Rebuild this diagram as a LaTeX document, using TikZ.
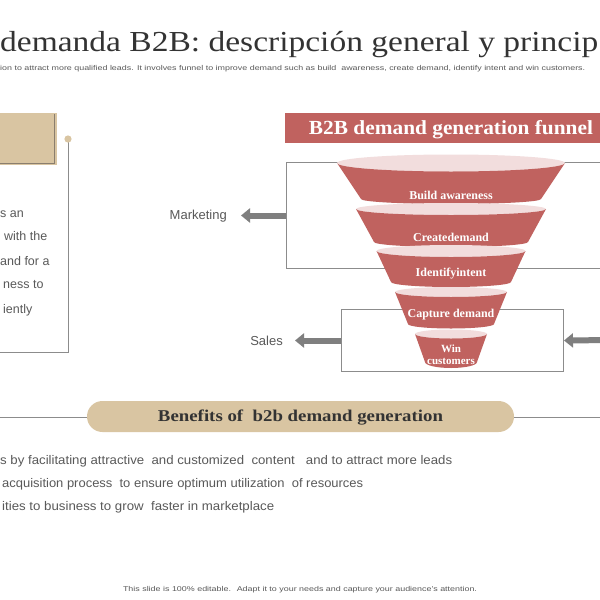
\documentclass[tikz,border=0pt]{standalone}
\usepackage{graphicx}
\usepackage{fontspec}
\setmainfont{Liberation Serif}
\setsansfont{Liberation Sans}
\usetikzlibrary{arrows.meta}
\definecolor{fred}{HTML}{C0625F}
\definecolor{fpink}{HTML}{F2DDDD}
\definecolor{beige}{HTML}{D9C5A2}
\definecolor{bdark}{HTML}{8A7E6E}
\definecolor{tgray}{HTML}{595959}
\definecolor{dgray}{HTML}{333333}
\definecolor{lgray}{HTML}{8C8C8C}
\definecolor{agray}{HTML}{7F7F7F}
\newcommand{\fitw}[2]{\resizebox{#1}{\height}{#2}}
\newcommand{\fseg}[7]{%
  \fill[fpink] (#1,#2) ellipse [x radius=#3, y radius=#4];
  \fill[fred] ({#1-#3},#2) arc[start angle=180,end angle=0,x radius=#3,y radius=#4]
     -- ({#1+#6},#5) arc[start angle=0,end angle=180,x radius=#6,y radius=#7] -- cycle;}
\tikzset{
  sans/.style={font=\sffamily\fontsize{12.5}{14}\selectfont, text=tgray, inner sep=0pt},
  ftext/.style={font=\bfseries\fontsize{12}{13}\selectfont, text=white, inner sep=0pt},
  fsmall/.style={font=\bfseries\fontsize{11}{12}\selectfont, text=white, inner sep=0pt, anchor=base},
  boxline/.style={draw=lgray, line width=1pt},
  bigarrow/.style={draw=agray, line width=6pt, -{Triangle[width=14pt,length=9pt]}},
}
\begin{document}
\begin{tikzpicture}[x=1pt,y=-1pt]
\useasboundingbox (0,0) rectangle (600,600);
\clip (0,0) rectangle (600,600);
\fill[white] (0,0) rectangle (600,600);

% title and subtitle
\node[anchor=base west, inner sep=0pt, text=dgray] (title) at (0,51)
  {\fitw{598pt}{\fontsize{29}{34}\selectfont demanda B2B: descripción general y princip}};
\node[anchor=west, inner sep=0pt, text=tgray] (sub) at (0,69)
  {\fitw{585pt}{\sffamily\fontsize{7}{8}\selectfont ion to attract more qualified leads. It involves funnel to improve demand such as build~ awareness, create demand, identify intent and win customers.}};

% left panel
\fill[beige] (-5,113) rectangle (57,165);
\draw[bdark, line width=0.9pt] (-5,163) -- (54,163) -- (54,114);
\draw[boxline] (68,139) -- (68,352) -- (-5,352);
\fill[beige] (68,139) circle[radius=3.6];
\node[sans, anchor=base west] (l1) at (0,217.5) {s an};
\node[sans, anchor=base west] (l2) at (4,240.5) {with the};
\node[sans, anchor=base west] (l3) at (0,265) {and for a};
\node[sans, anchor=base west] (l4) at (3,288.5) {ness to};
\node[sans, anchor=base west] (l5) at (3,313) {iently};

% funnel header
\node[fill=fred, minimum width=330pt, minimum height=30pt, anchor=north west, inner sep=0pt] (hdr) at (285,113) {};
\node[inner sep=0pt, text=white, anchor=base] (hdrt) at (451,134.5)
  {\fitw{284pt}{\bfseries\fontsize{20}{24}\selectfont B2B demand generation funnel}};

% boxes
\node[boxline, minimum width=330pt, minimum height=106pt, anchor=north west, inner sep=0pt] (mktbox) at (286,162) {};
\node[boxline, minimum width=222pt, minimum height=62pt, anchor=north west, inner sep=0pt] (salesbox) at (341,309) {};

% labels and arrows
\node[sans, font=\sffamily\fontsize{13}{15}\selectfont, anchor=east] (mkt) at (227,216) {Marketing};
\node[sans, font=\sffamily\fontsize{13}{15}\selectfont, anchor=east] (sales) at (283,341) {Sales};
\coordinate (rin) at (612,340);
\draw[bigarrow, shorten >=14pt] (mktbox.west) -- (mkt.east |- mktbox.west);
\draw[bigarrow, shorten >=12pt] (salesbox.west) -- (sales.east |- salesbox.west);
\draw[bigarrow] (rin) -- (salesbox.east);

% funnel
\fseg{451}{163}{114}{8.5}{199}{90}{5}
\fseg{451}{209}{95}{6}{242}{77}{5}
\fseg{451}{251}{74.5}{6}{282}{60}{5}
\fseg{451}{292}{56}{5}{324}{43}{4.5}
\fseg{451}{334}{36}{4.5}{362}{26}{6}
\node[ftext] (f1) at (451,195) {Build awareness};
\node[ftext] (f2) at (451,237) {Createdemand};
\node[ftext] (f3) at (451,274) {Identifyintent};
\node[ftext] (f4) at (451,315) {Capture demand};
\node[fsmall] (f5) at (451,352) {Win};
\node[fsmall] (f6) at (451,364.5) {customers};

% benefits
\draw[boxline] (-5,417) -- (605,417);
\node[fill=beige, rounded corners=15.5pt, minimum width=427pt, minimum height=31pt, inner sep=0pt] (ben) at (300.5,416.5) {};
\node[inner sep=0pt, text=dgray, anchor=base] (bent) at (300.5,421.5)
  {\fitw{285pt}{\bfseries\fontsize{16.5}{20}\selectfont Benefits of~ b2b demand generation}};
\node[sans, anchor=base west] (b1) at (0,464.5)
  {\fitw{452pt}{s by facilitating attractive~ and customized~ content~~ and to attract more leads}};
\node[sans, anchor=base west] (b2) at (2,487.5)
  {\fitw{361pt}{acquisition process~ to ensure optimum utilization~ of resources}};
\node[sans, anchor=base west] (b3) at (2,510.5)
  {\fitw{272pt}{ities to business to grow~ faster in marketplace}};

% footer
\node[inner sep=0pt, text=tgray] (foot) at (300,590)
  {\fitw{354pt}{\sffamily\fontsize{7}{8}\selectfont This slide is 100\% editable.~ Adapt it to your needs and capture your audience's attention.}};
\end{tikzpicture}
\end{document}
